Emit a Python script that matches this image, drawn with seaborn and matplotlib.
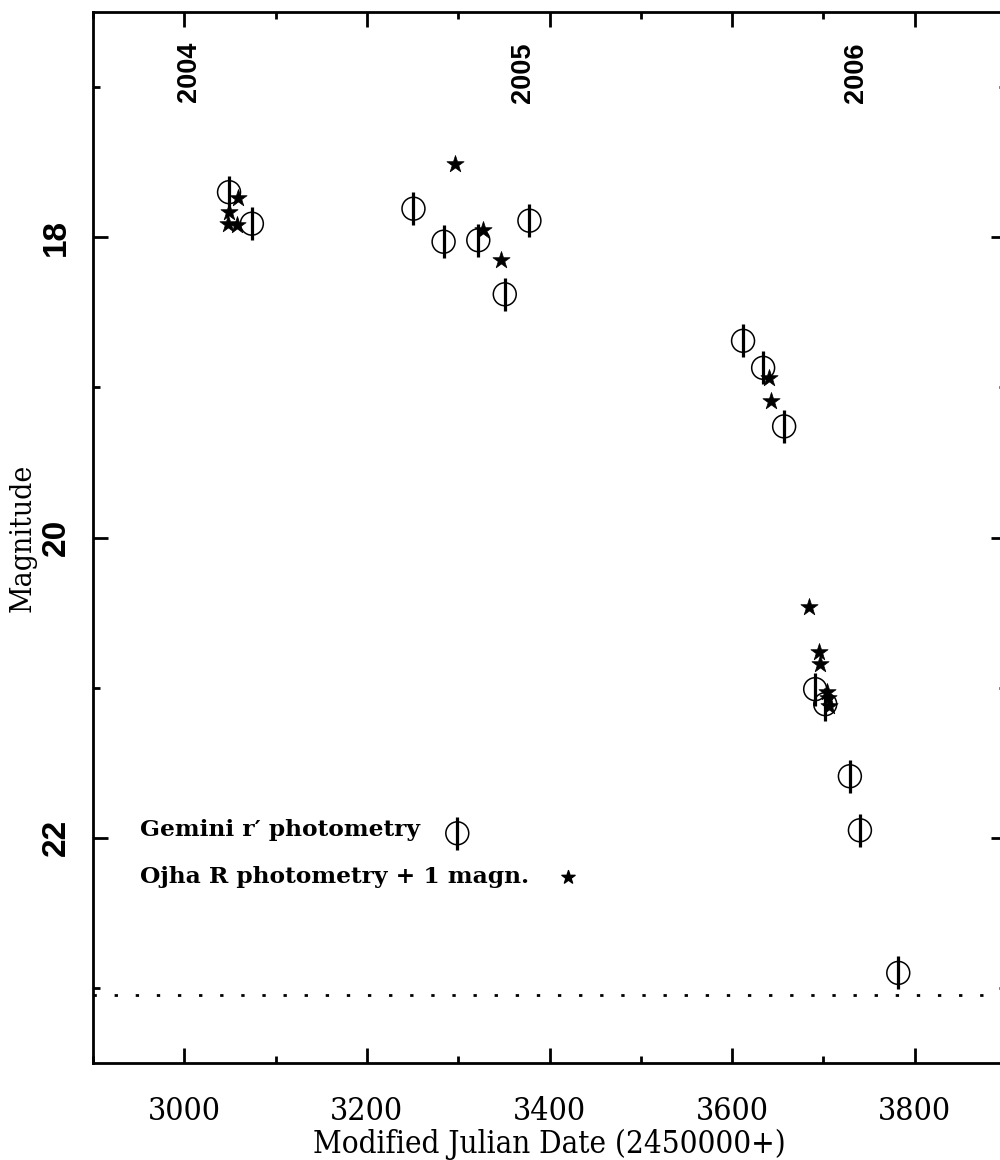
import matplotlib
matplotlib.use("Agg")
import matplotlib.pyplot as plt
from matplotlib.ticker import MultipleLocator
import seaborn as sns
import pandas as pd

# Gemini r' photometry (MJD - 2450000, magnitude, error)
gemini_mjd = [3049, 3074, 3251, 3284, 3322, 3378, 3351, 3612, 3634, 3657,
              3691, 3702, 3729, 3740, 3782]
gemini_mag = [17.70, 17.91, 17.81, 18.03, 18.02, 17.89, 18.38, 18.69, 18.87, 19.26,
              21.01, 21.11, 21.59, 21.95, 22.90]
gemini_err = [0.11, 0.11, 0.11, 0.11, 0.11, 0.11, 0.11, 0.11, 0.11, 0.11,
              0.11, 0.11, 0.11, 0.11, 0.11]

# Ojha R photometry, shifted by +1 magnitude
ojha_mjd = [3048, 3049, 3058, 3059, 3297, 3327, 3347, 3640, 3643, 3684,
            3695, 3696, 3704, 3705, 3706]
ojha_mag = [17.91, 17.83, 17.92, 17.74, 17.51, 17.95, 18.15, 18.94, 19.09, 20.46,
            20.76, 20.84, 21.03, 21.07, 21.12]

# Calendar year boundaries
year_labels = ["2004", "2005", "2006"]
year_mjd = [3005, 3371, 3736]

# Detection limit
limit_mag = 23.05

sns.set_style("ticks")
plt.rcParams.update({
    "font.family": ["DejaVu Serif"],
    "text.color": "black",
    "axes.labelcolor": "black",
    "axes.edgecolor": "black",
    "xtick.color": "black",
    "ytick.color": "black",
})

gem = pd.DataFrame({"mjd": gemini_mjd, "mag": gemini_mag, "err": gemini_err})
ojha = pd.DataFrame({"mjd": ojha_mjd, "mag": ojha_mag})

fig = plt.figure(figsize=(10, 11.6), dpi=100)
ax = fig.add_axes([0.093, 97 / 1160, 0.913, 1051 / 1160])

# Gemini: open circles with vertical error bars
ax.errorbar(gem["mjd"], gem["mag"], yerr=gem["err"], fmt="none",
            ecolor="black", elinewidth=2.3, capsize=0, zorder=2)
sns.scatterplot(data=gem, x="mjd", y="mag", marker="o", s=16.5 ** 2,
                facecolor="none", edgecolor="black", linewidth=1.1,
                ax=ax, zorder=3, legend=False)

# Ojha: filled stars
sns.scatterplot(data=ojha, x="mjd", y="mag", marker="*", s=13 ** 2,
                color="black", edgecolor="black", linewidth=0.5,
                ax=ax, zorder=4, legend=False)

# Dotted limit line
ax.axhline(limit_mag, color="black", lw=2.0, linestyle=(0, (1.2, 6.4)), zorder=1)

ax.set_xlim(2900, 3900)
ax.set_ylim(23.5, 16.5)

ax.xaxis.set_major_locator(MultipleLocator(200))
ax.xaxis.set_minor_locator(MultipleLocator(100))
ax.yaxis.set_major_locator(MultipleLocator(2))
ax.yaxis.set_minor_locator(MultipleLocator(1))

ax.tick_params(which="both", direction="in", top=True, right=True,
               width=2, color="black")
ax.tick_params(which="major", length=11)
ax.tick_params(which="minor", length=5)
ax.tick_params(axis="x", which="major", pad=24)
ax.tick_params(axis="y", which="major", pad=15, labelrotation=90)

for sp in ax.spines.values():
    sp.set_linewidth(2)
    sp.set_color("black")

for lab in ax.get_xticklabels():
    lab.set_fontfamily(["DejaVu Serif"])
    lab.set_fontstretch("condensed")
    lab.set_fontsize(23)
for lab in ax.get_yticklabels():
    lab.set_fontfamily(["Liberation Sans"])
    lab.set_fontweight("bold")
    lab.set_fontsize(24)
    lab.set_va("center")

ax.set_xlabel("Modified Julian Date (2450000+)", fontsize=22.5,
              fontstretch="condensed", family=["DejaVu Serif"])
ax.xaxis.set_label_coords(0.5, -0.063)
ax.set_ylabel("Magnitude", fontsize=21.5, fontstretch="condensed",
              family=["DejaVu Serif"])
ax.yaxis.set_label_coords(-0.062, 0.5)

# Year markers along the top
for yl, ym in zip(year_labels, year_mjd):
    ax.text(ym, 16.7, yl, rotation=90, ha="center", va="top",
            fontsize=19.5, fontweight="bold", family=["Liberation Sans"])

# Key
ax.text(2951, 21.95, "Gemini r\u2032 photometry", fontsize=16.8,
        fontweight="bold", va="center", ha="left", family=["DejaVu Serif"])
ax.text(2951, 22.26, "Ojha R photometry + 1 magn.", fontsize=16.8,
        fontweight="bold", va="center", ha="left", family=["DejaVu Serif"])
ax.errorbar([3299], [21.97], yerr=[0.11], fmt="none", ecolor="black",
            elinewidth=2.3, capsize=0)
ax.scatter([3299], [21.97], marker="o", s=16.5 ** 2, facecolor="none",
           edgecolor="black", linewidth=1.1)
ax.scatter([3420], [22.26], marker="*", s=10 ** 2, color="black")

fig.savefig("out.png", dpi=100)
